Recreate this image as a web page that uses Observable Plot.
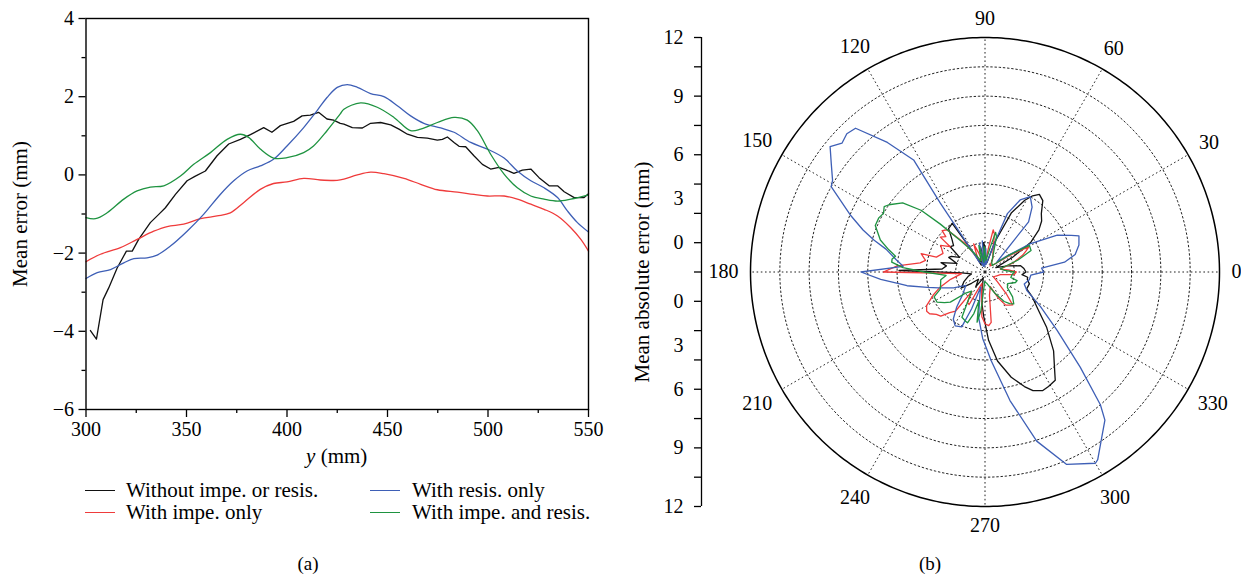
<!DOCTYPE html>
<html><head><meta charset="utf-8">
<script src="https://cdn.jsdelivr.net/npm/d3@7"></script>
<script src="https://cdn.jsdelivr.net/npm/@observablehq/plot@0.6"></script>
<style>
body{margin:0;background:#fff;}
#wrap{position:relative;width:1241px;height:578px;overflow:hidden;font-family:"Liberation Serif","Times New Roman",Times,serif;color:#000;}
.abs{position:absolute;white-space:nowrap;font-size:21px;line-height:22px;}
.cen{transform:translate(-50%,-50%);}
.rot{transform:translate(-50%,-50%) rotate(-90deg);}
#left{position:absolute;left:0;top:0;}
#right{position:absolute;left:620px;top:0;}
.sw{position:absolute;height:0;width:30px;border-top:1.5px solid;}
</style></head>
<body><div id="wrap">
<div id="left"></div><div id="right"></div>
</div>
<script>
const FONT = '"Liberation Serif","Times New Roman",Times,serif';
// ---------- series meta ----------
const seriesNames = ["Without impe. or resis.", "With impe. only", "With resis. only", "With impe. and resis."];
const seriesColors = ["#111111", "#ef3b3b", "#3e5fb6", "#1e9340"];

// ---------- panel (a): mean error vs y ----------
const blackX = [302.2,305.2,308.5,311.3,315.5,320.1,323,326.2,332,336.2,339.5,344.5,350.3,354.4,359.4,365.2,371,376.8,381.8,388.4,392.5,396.7,403.3,407.5,411.6,415.7,419.9,423.2,426.5,428.3,432.5,437.5,441.6,446.6,451.6,455.7,459.9,464.9,469.8,474.8,477.3,479.8,483.1,485.6,488.9,493,497.2,501.3,505.5,508.8,512.9,517.1,521.3,525.4,530.4,534.6,537.9,542.9,547.8,550];
const blackY = [-3.98,-4.2,-3.19,-2.89,-2.38,-1.95,-1.95,-1.65,-1.22,-1.01,-0.84,-0.5,-0.15,-0.03,0.1,0.49,0.79,0.91,1.03,1.21,1.09,1.26,1.37,1.51,1.53,1.6,1.43,1.4,1.32,1.3,1.21,1.2,1.32,1.34,1.28,1.17,1.04,0.96,0.94,0.89,0.91,0.97,0.83,0.73,0.72,0.49,0.27,0.15,0.19,0.13,0.04,0.12,0.15,-0.07,-0.28,-0.28,-0.43,-0.58,-0.58,-0.48];
const redX = [300,307.2,317.1,325.4,333.7,340.4,348.6,357,365.2,371.8,378.4,386.7,393.3,400,408.3,416.6,424.9,428.3,435,441.6,448.2,458.2,466.5,474.8,484.8,493,499.7,508,514.6,521.3,527.9,534.6,541.2,546.2,550];
const redY = [-2.22,-2.03,-1.86,-1.65,-1.44,-1.32,-1.26,-1.12,-1.05,-0.97,-0.71,-0.37,-0.22,-0.18,-0.09,-0.13,-0.14,-0.11,0.0,0.07,0.03,-0.09,-0.24,-0.38,-0.44,-0.5,-0.54,-0.54,-0.62,-0.75,-0.88,-1.05,-1.35,-1.65,-1.95];
const blueX = [300,305.6,312.2,318.8,323.8,330.4,335.4,342,350.3,358.5,366.8,373.5,380.1,386.7,393.3,400,408.3,414.9,419.9,425,430,435,441.6,448.2,454.9,461.5,468.1,476.5,483.1,491.4,499.7,508,514.6,521.3,527.9,534.6,539.5,544.5,550];
const blueY = [-2.65,-2.5,-2.42,-2.25,-2.14,-2.12,-2.05,-1.82,-1.44,-1.01,-0.5,-0.15,0.1,0.23,0.4,0.74,1.21,1.64,1.98,2.24,2.31,2.24,2.08,2.0,1.77,1.51,1.32,1.2,1.09,0.83,0.66,0.43,0.1,-0.15,-0.33,-0.58,-0.92,-1.22,-1.46];
const greenX = [300,304.7,310.5,318.8,325.4,332,338.7,347,353.6,361.9,370.2,376.8,380.9,386.7,393.3,400,408.3,413.2,419.9,426.5,428.3,436.6,444.9,453.2,461.5,466.5,474.8,483.1,489.7,494.7,501.3,508,514.6,521.3,527.9,534.6,541.2,550];
const greenY = [-1.09,-1.12,-0.97,-0.62,-0.41,-0.31,-0.28,-0.03,0.27,0.57,0.91,1.04,0.96,0.66,0.43,0.44,0.57,0.74,1.13,1.56,1.68,1.84,1.73,1.47,1.13,1.17,1.34,1.47,1.4,1.13,0.53,0.02,-0.33,-0.54,-0.62,-0.67,-0.62,-0.51];
const xTicks = [300,350,400,450,500,550];
const xMinor = [325,375,425,475,525];
const yTicks = [-6,-4,-2,0,2,4];
const yMinor = [-5,-3,-1,1,3];

// ---------- panel (b): mean absolute error, polar ----------
const blackAng = [0,5,10,15,22,28,33,38,42,46,51,55,58,61,66,72,78,85,90,93,96,100,105,112,118,120,124,130,135,140,144,150,155,158,163,168,171,176,179,182,188,195,205,214,220,228,238,245,253,261,265,268.5,273,278,284,289,292,296,299,303,306,311,318,325,332,338,345,350,353,356,360];
const blackR   = [2.1,2.0,1.85,1.2,0.6,1.6,2.8,3.5,3.9,4.15,4.7,4.85,4.6,4.2,3.3,1.6,0.5,0.4,1.3,1.5,0.5,1.3,0.4,0.7,0.4,1.0,3.0,2.9,2.4,2.1,2.2,1.5,1.9,2.0,1.5,2.3,2.0,2.2,4.4,1.2,0.7,0.9,1.2,1.45,0.9,0.5,0.9,0.5,0.3,1.0,1.7,2.3,3.5,4.6,5.55,6.2,6.55,6.75,6.7,6.6,6.05,5.35,4.25,3.3,2.75,2.3,2.35,2.2,2.2,1.9,2.1];
const redAng = [0,5,10,18,24,27,30,34,40,50,60,70,76,79,82,88,95,100,108,112,118,125,132,136,138,142,144,149,156,163,164,169,172,176,180,184,192,199,204,210,214,217,221,225,229,233,236,240,244,248,255,262,266,270,274,277,281,290,297,302,306,310,314,322,330,340,350,355,360];
const redR   = [1.6,1.2,0.8,1.5,2.1,2.35,2.6,1.5,0.6,0.4,0.8,1.2,2.0,2.2,1.2,0.5,1.1,0.4,1.0,1.55,0.8,1.8,2.9,3.05,2.7,2.9,2.2,2.65,2.35,2.6,3.4,3.1,3.35,4.5,5.2,1.2,1.8,2.45,2.9,3.45,3.6,3.55,3.3,3.2,2.75,2.5,1.2,1.8,1.85,1.0,0.6,1.3,2.3,2.65,2.75,2.6,1.2,0.8,1.5,2.0,2.1,2.2,1.6,0.8,0.5,0.6,0.8,1.5,1.6];
const blueAng = [0,4,7,11,16,21,23,27,32,36,40,44,49,54,59,64,69,71,75,82,88,92,95,98,101,105,112,120,122,123,122.5,127,132,135,138,141,145,149,151,157,161,164,167,172,176,180,184,188,190,195,199,207,215,225,231,236,241,247,250,254,258,262,268,274,281,287,293,300,301,305,309,311,315,321,328,336,343,350,356,360];
const blueR   = [3.0,2.9,4.1,4.7,5.0,5.15,4.8,4.15,2.75,1.4,0.8,1.2,3.4,4.1,4.5,4.1,3.2,1.9,0.8,0.4,1.2,0.3,1.6,0.4,1.5,0.3,0.5,0.6,1.7,4.2,6.8,8.3,9.9,10.0,9.85,10.2,9.6,9.1,9.0,7.5,6.6,5.9,5.2,4.6,4.2,6.35,5.35,4.4,4.05,3.05,2.5,1.8,1.2,1.6,2.3,2.9,3.15,3.05,2.0,0.8,1.3,2.35,3.4,4.55,6.7,9.05,10.7,11.3,11.2,10.4,9.75,9.0,6.9,4.75,3.35,2.35,2.1,2.3,2.35,3.0];
const greenAng = [0,5,12,20,25,31,35,42,55,65,72,75,78,85,92,96,103,110,118,124,128,133,136,140,145,147,150,153,157,163,167,170,172,174,177,180,185,190,195,201,206,212,217,221,227,235,243,248,251,255,258,261,264,268,280,295,303,308,312,318,325,333,341,345,348,355,360];
const greenR   = [1.5,1.0,0.8,1.8,2.6,2.65,1.5,0.5,0.6,1.0,1.9,2.1,1.3,0.6,1.3,0.5,1.4,0.6,1.0,1.5,2.05,3.35,4.55,5.5,6.0,6.15,6.0,6.1,6.1,5.6,5.05,4.65,4.8,4.8,4.2,3.1,2.0,2.3,2.35,2.45,2.9,2.9,2.6,2.35,1.5,1.2,2.6,2.7,2.75,2.2,1.5,2.6,2.0,0.5,0.6,1.2,1.8,2.05,2.2,1.9,1.4,1.3,1.65,1.7,1.35,1.4,1.5];
const ringRadii = [1.5,3,4.5,6,7.5,9,10.5];
const outerRadius = 12;
const spokeAngles = [0,30,60,90,120,150,180,210,240,270,300,330];
const radialTickPos = [-12,-10.5,-9,-7.5,-6,-4.5,-3,-1.5,0,1.5,3,4.5,6,7.5,9,10.5,12];
const radialLabelPos = [12,9,6,3.75,1.5,-1.5,-3.75,-6,-9,-12];
const radialLabelText = ["12","9","6","3","0","0","3","6","9","12"];

// ---------- build panel (a) ----------
const leftSeries = [[blackX,blackY],[redX,redY],[blueX,blueY],[greenX,greenY]];
const leftData = leftSeries.flatMap(([xs,ys],s) => xs.map((x,i)=>({s, x, y: ys[i]})));
const left = Plot.plot({
  width: 600, height: 440,
  marginLeft: 85.5, marginRight: 12, marginTop: 18, marginBottom: 31,
  style: {fontFamily: FONT, fontSize: "20px", color: "#000", background: "transparent", overflow: "visible"},
  x: {domain: [300,550]},
  y: {domain: [-6,4]},
  marks: [
    Plot.axisY({ticks: yTicks, tickSize: 7, tickPadding: 5, label: null, strokeWidth: 1.3}),
    Plot.axisY({ticks: yMinor, tickSize: 4, tickFormat: () => "", label: null, strokeWidth: 1.3}),
    Plot.axisX({ticks: xTicks, tickSize: 8, tickPadding: 4, label: null, strokeWidth: 1.3, tickFormat: d => String(d)}),
    Plot.axisX({ticks: xMinor, tickSize: 4, tickFormat: () => "", label: null, strokeWidth: 1.3}),
    ...[0,1,2,3].map(s => Plot.line(leftData.filter(d => d.s === s), {x: "x", y: "y", stroke: seriesColors[s], strokeWidth: 1.3, curve: s === 0 ? "linear" : "catmull-rom"})),
    Plot.frame({stroke: "#000", strokeWidth: 1.4})
  ]
});
document.getElementById("left").appendChild(left);

// ---------- build panel (b) ----------
const rad = a => a * Math.PI / 180;
const polarSeries = [[blackAng,blackR],[redAng,redR],[blueAng,blueR],[greenAng,greenR]];
const polarData = polarSeries.flatMap(([as,rs],s) => as.map((a,i)=>({s, a, r: rs[i]})));
const ringPts = ringRadii.flatMap(r => d3.range(0,361,2).map(a => ({r, a})));
const outerPts = d3.range(0,361,1).map(a => ({r: outerRadius, a}));
const PXMM = 234.5/12;
const labelDist = a => { const w = String(a).length*10; return outerRadius + (12 + Math.abs(Math.cos(rad(a)))*w/2 + Math.abs(Math.sin(rad(a)))*7)/PXMM; };
const right = Plot.plot({
  width: 621, height: 560,
  marginLeft: 81, marginRight: 22, marginTop: 37, marginBottom: 54,
  style: {fontFamily: FONT, fontSize: "20px", color: "#000", background: "transparent", overflow: "visible"},
  x: {domain: [-12 - 49/PXMM, 12], axis: null},
  y: {domain: [-12, 12]},
  marks: [
    Plot.line(ringPts, {x: d => d.r*Math.cos(rad(d.a)), y: d => d.r*Math.sin(rad(d.a)), z: "r", stroke: "#222", strokeWidth: 1, strokeDasharray: "1.6,2.6"}),
    Plot.link(spokeAngles, {x1: 0, y1: 0, x2: a => outerRadius*Math.cos(rad(a)), y2: a => outerRadius*Math.sin(rad(a)), stroke: "#222", strokeWidth: 1, strokeDasharray: "1.6,2.6"}),
    Plot.line(outerPts, {x: d => d.r*Math.cos(rad(d.a)), y: d => d.r*Math.sin(rad(d.a)), stroke: "#000", strokeWidth: 1.5}),
    ...[0,1,2,3].map(s => Plot.line(polarData.filter(d => d.s === s), {x: d => d.r*Math.cos(rad(d.a)), y: d => d.r*Math.sin(rad(d.a)), stroke: seriesColors[s], strokeWidth: 1.3})),
    Plot.text(spokeAngles, {x: a => labelDist(a)*Math.cos(rad(a)), y: a => labelDist(a)*Math.sin(rad(a)), text: a => String(a), fontSize: 20}),
    Plot.ruleX([-12 - 49/PXMM], {y1: -12, y2: 12, stroke: "#000", strokeWidth: 1.3}),
    Plot.axisY({ticks: radialTickPos, tickSize: 7, tickFormat: () => "", label: null, strokeWidth: 1.3}),
    Plot.axisY({ticks: radialLabelPos, tickSize: 0, tickPadding: 18, tickFormat: d => radialLabelText[radialLabelPos.indexOf(d)], label: null})
  ]
});
document.getElementById("right").appendChild(right);

// ---------- HTML texts: axis labels, legend, captions ----------
const wrap = document.getElementById("wrap");
function addText(html, x, y, cls, extra) {
  const d = document.createElement("div"); d.className = "abs " + (cls || ""); d.innerHTML = html;
  d.style.left = x + "px"; d.style.top = y + "px"; if (extra) Object.assign(d.style, extra);
  wrap.appendChild(d); return d;
}
addText("Mean error (mm)", 20, 213.5, "rot");
addText("Mean absolute error (mm)", 642, 271.5, "rot");
addText('<i>y</i> (mm)', 336.7, 456, "cen");
const legPos = [[85,126,490.5],[85,126,512.5],[370,412,490.5],[370,412,512.5]];
seriesNames.forEach((n,i) => {
  const [lx, tx, cy] = legPos[i];
  const sw = document.createElement("div"); sw.className = "sw";
  sw.style.left = lx + "px"; sw.style.top = (cy - 0.75) + "px"; sw.style.borderTopColor = seriesColors[i];
  wrap.appendChild(sw);
  addText(n, tx, cy - 12);
});
addText("(a)", 308, 564, "cen", {fontSize: "19px"});
addText("(b)", 930, 564, "cen", {fontSize: "19px"});
</script>
</body></html>
